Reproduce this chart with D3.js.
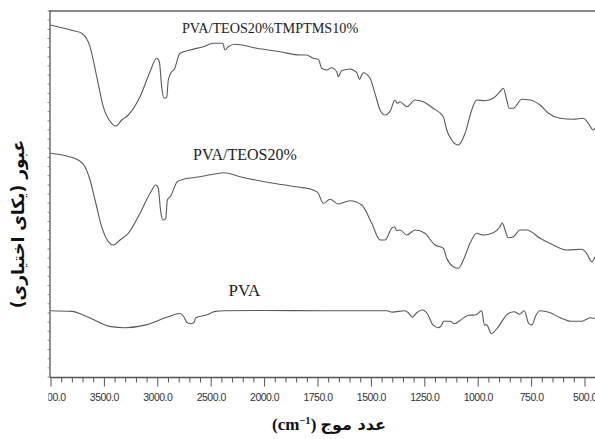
<!DOCTYPE html>
<html>
<head>
<meta charset="utf-8">
<script src="https://cdn.jsdelivr.net/npm/d3@7"></script>
<style>
  body { margin: 0; background: #fff; }
  svg { display: block; }
</style>
</head>
<body>
<svg id="chart" width="595" height="439"></svg>
<script>
// FTIR spectra: [wavenumber (cm-1), transmittance (arbitrary units)]
const pvaTeosTmptms = [
  [4000,352],[3786,346.3],[3708,343.7],[3630,330.3],[3567,300.3],[3506,270.3],[3427,253.7],[3387,251],
  [3333,257],[3272,262],[3162,280.3],[3068,305.3],[3006,318.7],[2981,315.3],[2959,290.3],[2937,278.7],
  [2912,279.7],[2897,297],[2865,305.3],[2844,307],[2788,323.7],[2694,327],[2569,330.3],[2476,333.7],
  [2388,333.7],[2366,327],[2335,330.3],[2272,332.7],[2069,328.7],[1926,325.3],[1832,322],[1801,322],
  [1770,318.7],[1746,317.7],[1730,308.7],[1707,307],[1684,309.3],[1660,305.3],[1653,300.3],[1637,306.3],
  [1598,308],[1566,304.3],[1554,297.7],[1536,304.3],[1504,298.7],[1481,283.7],[1457,267],[1434,262],
  [1411,265.3],[1387,277],[1376,273.7],[1364,275.3],[1332,270.3],[1293,277],[1255,275.3],[1208,268.7],
  [1161,260.3],[1145,247],[1122,237],[1091,232],[1059,243.7],[1028,267],[1005,277],[966,276.3],
  [927,278.7],[896,285.3],[880,288.7],[864,277],[852,268.7],[833,268.7],[794,277.7],[755,277],
  [708,272],[669,263.7],[615,258.7],[552,257.7],[506,258.7],[482,253.7],[459,247],[451,249]
];

const pvaTeos = [
  [4000,223.7],[3848,221],[3740,217],[3677,210.3],[3630,197],[3583,177],[3521,150.3],[3459,135.3],
  [3412,132],[3349,137],[3272,143.7],[3162,163.7],[3068,183.7],[3012,192],[2991,188.7],[2968,165.3],
  [2949,157],[2921,158.7],[2906,177],[2875,181],[2813,195.3],[2757,197.7],[2600,200.3],[2476,202.7],
  [2375,204.3],[2226,200.3],[1957,193.7],[1832,189.7],[1801,188.7],[1770,187],[1747,184],[1723,173.7],
  [1691,177.7],[1653,173],[1598,176.3],[1543,172],[1496,153.7],[1457,137],[1434,137],[1403,148.7],
  [1390,150.3],[1379,146.3],[1364,147],[1332,142],[1293,147],[1247,143.7],[1200,132],[1161,128.7],
  [1145,118.7],[1114,110.3],[1091,108.7],[1067,117],[1036,133.7],[1005,143.7],[974,142],[927,144.3],
  [896,150.3],[885,154.3],[872,147],[857,139.3],[833,140.3],[802,147],[770,147],[708,138.7],
  [646,132],[583,127],[513,127.7],[490,123.7],[466,115.3],[451,120.3]
];

const pva = [
  [4000,66.3],[3800,65.6],[3634,59.2],[3435,50.4],[3302,49.3],[3104,52.1],[2905,59.9],[2789,63.5],
  [2756,61],[2723,54.6],[2690,53.2],[2656,54.6],[2640,59.2],[2540,62],[2458,65.6],[2375,66.3],
  [2000,66.5],[1700,66.3],[1425,66.3],[1400,64.9],[1342,66.3],[1326,64.5],[1306,59.9],[1284,64.5],
  [1259,67],[1234,62.8],[1210,52.1],[1185,49.3],[1168,52.1],[1160,55.7],[1127,55.7],[1110,53.2],
  [1077,57.4],[1044,61.7],[1011,62],[981,66.3],[969,52.1],[958,52.1],[936,43.3],[903,50.4],
  [861,62.8],[829,65.2],[804,62.8],[782,66.3],[762,53.9],[746,52.1],[729,61],[709,66.3],
  [663,64.5],[613,59.2],[563,55.7],[513,55.7],[472,59.2],[451,58.5]
];

const seriesLabels = ["PVA/TEOS20%TMPTMS10%", "PVA/TEOS20%", "PVA"];
// label anchor points in data units [wavenumber, transmittance]
const labelAnchors = [[1972, 344.5], [2179, 217], [2185, 81.5]];
const labelSizes = [14.2, 16, 17];

const majorTicks = [4000, 3500, 3000, 2500, 2000, 1750, 1500, 1250, 1000, 750, 500];
const minorTicks = d3.range(3900, 2000, -100).concat(d3.range(1950, 400, -50))
  .filter(d => !majorTicks.includes(d));
const yTicks = d3.range(0, 367, 9.15);

const xTitle = "عدد موج";
const yTitle = "عبور (یکای اختیاری)";

const svg = d3.select("#chart");

// Wavenumber axis: wider spacing below 2000 cm-1
const x = d3.scaleLinear().domain([4000, 2000, 500]).range([50.5, 264.1, 584.5]);
const y = d3.scaleLinear().domain([0, 366]).range([377, 11]);

const axisColor = "#555";

// top frame line
svg.append("line")
  .attr("x1", 50).attr("x2", 595).attr("y1", 11).attr("y2", 11)
  .attr("stroke", "#8a8a8a").attr("stroke-width", 2);

// y axis line with small ticks
svg.append("line")
  .attr("x1", 50).attr("x2", 50).attr("y1", 10).attr("y2", 377.5)
  .attr("stroke", axisColor).attr("stroke-width", 1.3);
svg.append("g").selectAll("line").data(yTicks).join("line")
  .attr("x1", 47.5).attr("x2", 50)
  .attr("y1", d => y(d)).attr("y2", d => y(d))
  .attr("stroke", "#777").attr("stroke-width", 0.8);

// x axis; the first tick label is cut at the left edge of the frame
svg.append("defs").append("clipPath").attr("id", "xclip")
  .append("rect").attr("x", 48.3).attr("y", -5).attr("width", 560).attr("height", 40);

svg.append("line")
  .attr("x1", 50).attr("x2", 595).attr("y1", 377.5).attr("y2", 377.5)
  .attr("stroke", axisColor).attr("stroke-width", 1.3);

const minorAxis = d3.axisBottom(x).tickValues(minorTicks).tickSize(5).tickFormat("");
const gMinor = svg.append("g").attr("transform", "translate(0,377.5)").call(minorAxis);
gMinor.select(".domain").remove();
gMinor.selectAll(".tick line").attr("stroke", axisColor).attr("stroke-width", 1);

const majorAxis = d3.axisBottom(x).tickValues(majorTicks).tickSize(9).tickPadding(7)
  .tickFormat(d => d.toFixed(1));
const gMajor = svg.append("g").attr("transform", "translate(0,377.5)")
  .attr("clip-path", "url(#xclip)").call(majorAxis);
gMajor.select(".domain").remove();
gMajor.selectAll(".tick line").attr("stroke", axisColor).attr("stroke-width", 1);
gMajor.selectAll(".tick text")
  .attr("font-family", "Liberation Sans, Arial, sans-serif")
  .attr("font-size", 10.5).attr("letter-spacing", -0.5)
  .attr("fill", "#333");

// spectra
const line = d3.line()
  .x(d => x(d[0])).y(d => y(d[1]))
  .curve(d3.curveMonotoneX);

const g = svg.append("g");
[pvaTeosTmptms, pvaTeos, pva].forEach(s => {
  g.append("path").datum(s)
    .attr("d", line)
    .attr("fill", "none")
    .attr("stroke", "#5a5a5a")
    .attr("stroke-width", 1.1)
    .attr("stroke-linejoin", "round");
});

// series labels
svg.append("g").selectAll("text").data(seriesLabels).join("text")
  .attr("x", (d, i) => x(labelAnchors[i][0]))
  .attr("y", (d, i) => y(labelAnchors[i][1]))
  .attr("text-anchor", "middle")
  .attr("font-family", "Liberation Serif, Times New Roman, serif")
  .attr("font-size", (d, i) => labelSizes[i])
  .attr("fill", "#222")
  .text(d => d);

// x title: (cm-1) + Persian
const xt = svg.append("text")
  .attr("x", 329).attr("y", 430)
  .attr("text-anchor", "middle")
  .attr("font-family", "Liberation Serif, DejaVu Sans, serif")
  .attr("font-weight", "bold")
  .attr("font-size", 17)
  .attr("fill", "#111");
xt.append("tspan").text("(cm");
xt.append("tspan").attr("dy", -6).attr("font-size", 10.5).text("−1");
xt.append("tspan").attr("dy", 6).text(") ");
xt.append("tspan").attr("font-family", "DejaVu Sans, sans-serif").attr("font-size", 16).text(xTitle);

// y title (rotated, right-to-left)
svg.append("text")
  .attr("transform", "translate(24,224) rotate(-90)")
  .attr("text-anchor", "middle")
  .attr("direction", "rtl")
  .attr("font-family", "DejaVu Sans, sans-serif")
  .attr("font-weight", "bold")
  .attr("font-size", 17)
  .attr("fill", "#111")
  .text(yTitle);
</script>
</body>
</html>
